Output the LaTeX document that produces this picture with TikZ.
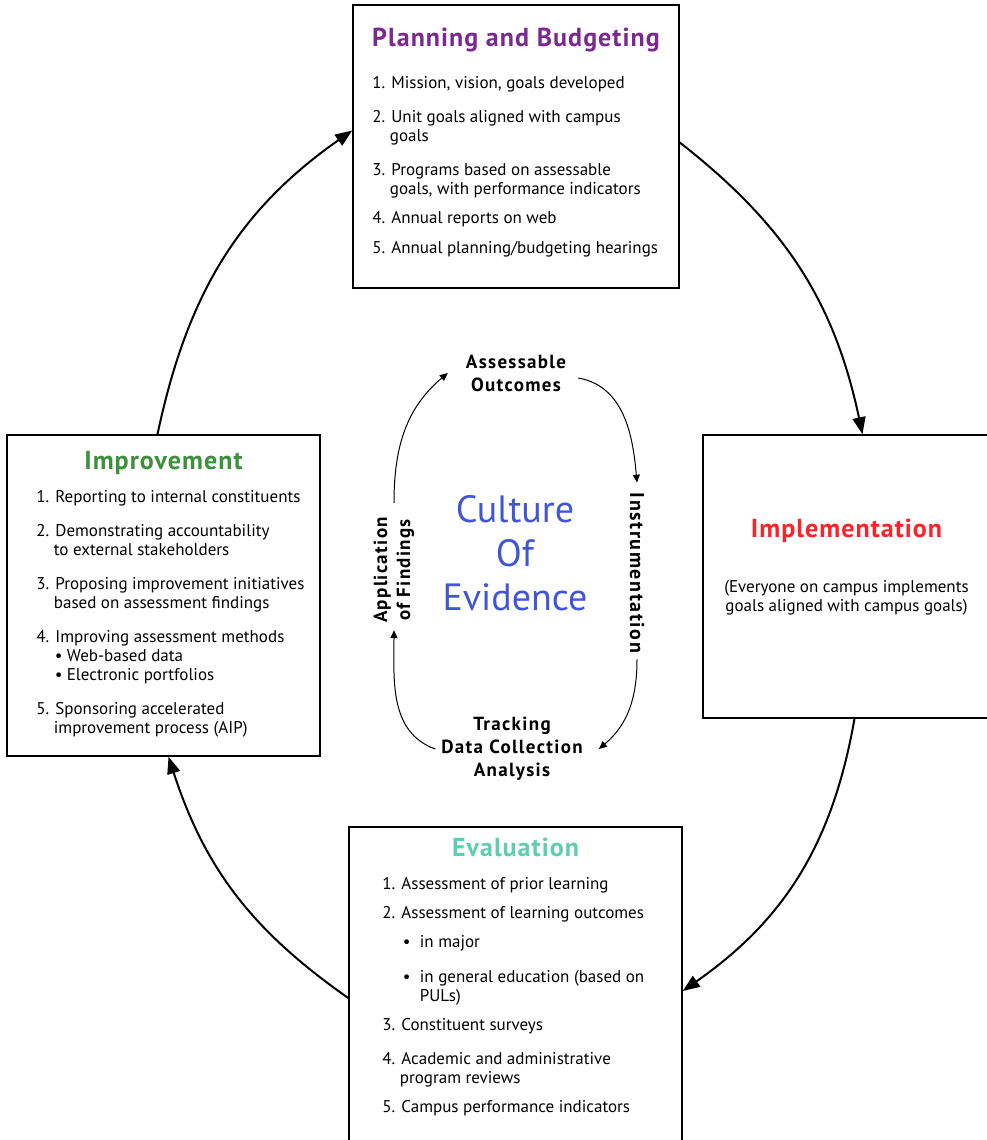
\documentclass[tikz,border=0pt]{standalone}
\usepackage{fontspec}
\setmainfont{PT Sans}
\usetikzlibrary{arrows.meta,positioning}
\definecolor{cyclepurple}{RGB}{123,41,145}
\definecolor{cyclegreen}{RGB}{60,145,60}
\definecolor{cyclered}{RGB}{250,35,40}
\definecolor{cycleteal}{RGB}{95,205,175}
\definecolor{cycleblue}{RGB}{65,85,215}
\newcommand{\listhang}{\hphantom{2.\ }}
\newcommand{\evalbullet}{\makebox[20pt][l]{\hspace*{3pt}\textbullet}}
\newcommand{\imprbullet}{\makebox[13pt][l]{\hspace*{1pt}\textbullet}}
\tikzset{
  stage box/.style={
    draw=black,
    line width=1.5pt,
    fill=white,
    inner sep=0pt,
  },
  stage title/.style={
    font=\fontsize{26}{30}\selectfont\bfseries\addfontfeatures{LetterSpace=4},
    inner sep=0pt,
  },
  stage list/.style={
    anchor=north west,
    align=left,
    inner sep=0pt,
    font=\fontsize{17}{19}\selectfont,
  },
  stage note/.style={
    align=center,
    inner sep=0pt,
    font=\fontsize{17}{19}\selectfont,
  },
  core label/.style={
    align=center,
    inner sep=0pt,
    font=\fontsize{19}{23}\selectfont\bfseries\addfontfeatures{LetterSpace=7},
  },
  outer arrow/.style={
    -{Triangle[length=17pt,width=13pt]},
    line width=2pt,
  },
  inner arrow/.style={
    -{Triangle[length=8pt,width=7pt]},
    line width=1pt,
  },
}

\begin{document}
\begin{tikzpicture}[x=1pt,y=1pt]
  \useasboundingbox (0,0) rectangle (987,1140);
  \clip (0,0) rectangle (987,1140);

  % the four stages
  \node[stage box, minimum width=326pt, minimum height=283pt] (plan) at (516,993.5) {};
  \node[stage box, minimum width=287pt, minimum height=283pt] (impl) at (846.5,563.5) {};
  \node[stage box, minimum width=333pt, minimum height=320pt] (eval) at (515.5,153) {};
  \node[stage box, minimum width=313pt, minimum height=321pt] (impr) at (163.5,544.5) {};

  \node[stage title, text=cyclepurple, below=24pt of plan.north] (plantitle) {Planning and Budgeting};
  \node[stage list, below right=72pt and 20pt of plan.north west] (planlist)
    {1. Mission, vision, goals developed\\[15pt]
     2. Unit goals aligned with campus\\
     \listhang goals\\[15pt]
     3. Programs based on assessable\\
     \listhang goals, with performance indicators\\[10pt]
     4. Annual reports on web\\[11pt]
     5. Annual planning/budgeting hearings};

  \node[stage title, text=cyclered, below=85pt of impl.north] (impltitle) {Implementation};
  \node[stage note, below=37pt of impltitle.south] (implnote)
    {(Everyone on campus implements\\
     goals aligned with campus goals)};

  \node[stage title, text=cycleteal, below=12pt of eval.north] (evaltitle) {Evaluation};
  \node[stage list, below right=51pt and 34pt of eval.north west] (evallist)
    {1. Assessment of prior learning\\[10pt]
     2. Assessment of learning outcomes\\[10pt]
     \listhang\evalbullet in major\\[16pt]
     \listhang\evalbullet in general education (based on\\
     \listhang\hspace*{20pt}PULs)\\[10pt]
     3. Constituent surveys\\[15pt]
     4. Academic and administrative\\
     \listhang program reviews\\[10pt]
     5. Campus performance indicators};

  \node[stage title, text=cyclegreen, below=17pt of impr.north] (imprtitle) {Improvement};
  \node[stage list, below right=56pt and 30pt of impr.north west] (imprlist)
    {1. Reporting to internal constituents\\[15pt]
     2. Demonstrating accountability\\
     \listhang to external stakeholders\\[15pt]
     3. Proposing improvement initiatives\\
     \listhang based on assessment findings\\[15pt]
     4. Improving assessment methods\\
     \listhang\imprbullet Web-based data\\
     \listhang\imprbullet Electronic portfolios\\[15pt]
     5. Sponsoring accelerated\\
     \listhang improvement process (AIP)};

  % outer cycle
  \draw[outer arrow] ([xshift=-6pt]impr.north) to[out=78,in=215] ([yshift=16pt]plan.west);
  \draw[outer arrow] ([yshift=4pt]plan.east) to[out=-38,in=102] ([xshift=16pt]impl.north);
  \draw[outer arrow] ([xshift=8pt]impl.south) to[out=-100,in=35] ([yshift=-4pt]eval.east);
  \draw[outer arrow] ([yshift=-11pt]eval.west) to[out=145,in=-72] ([xshift=5pt]impr.south);

  % inner cycle
  \node[align=center, inner sep=0pt, text=cycleblue, font=\fontsize{38}{44}\selectfont] (core) at (515,587)
    {Culture\\Of\\Evidence};
  \node[core label] (outc) at (516,767) {Assessable\\Outcomes};
  \node[core label, rotate=-90, font=\fontsize{20}{23}\selectfont\bfseries\addfontfeatures{LetterSpace=8}] (instr) at (637,567) {Instrumentation};
  \node[core label] (track) at (512,391) {Tracking\\Data Collection\\Analysis};
  \node[core label, rotate=90] (appl) at (394,570) {Application\\of Findings};

  \draw[inner arrow] ([xshift=12pt,yshift=-5pt]outc.east) to[out=-10,in=95] ([yshift=10pt]instr.west);
  \draw[inner arrow] ([yshift=-6pt]instr.east) to[out=-90,in=40] ([xshift=16pt]track.east);
  \draw[inner arrow] ([xshift=-6pt]track.west) to[out=160,in=-90] ([yshift=-7pt]appl.west);
  \draw[inner arrow] ([yshift=14pt]appl.east) to[out=90,in=220] ([xshift=-18pt]outc.west);
\end{tikzpicture}
\end{document}
